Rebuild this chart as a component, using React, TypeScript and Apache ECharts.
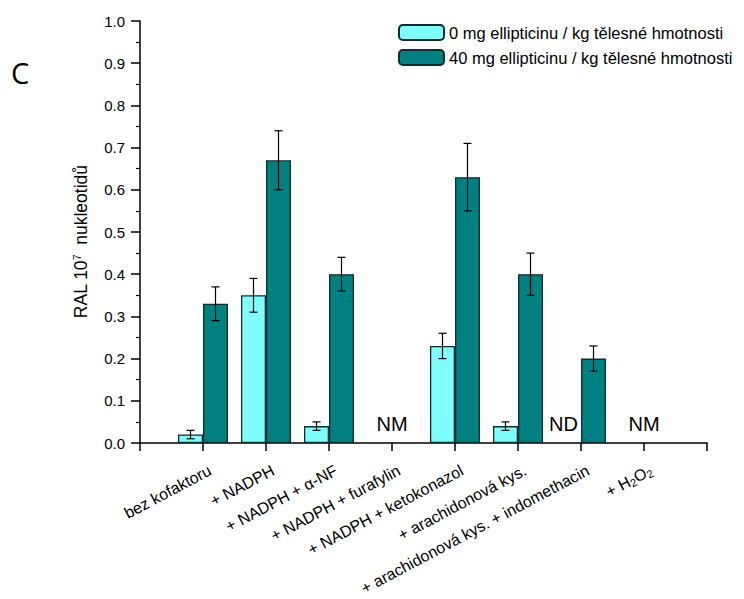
import React, { useEffect, useRef } from 'react';
import * as echarts from 'echarts';

const categories = [
  'bez kofaktoru',
  '+ NADPH',
  '+ NADPH + α-NF',
  '+ NADPH + furafylin',
  '+ NADPH + ketokonazol',
  '+ arachidonová kys.',
  '+ arachidonová kys. + indomethacin',
  '+ H₂O₂',
];
const controlValues = [0.02, 0.35, 0.04, null, 0.23, 0.04, null, null];
const controlErrors = [0.01, 0.04, 0.01, null, 0.03, 0.01, null, null];
const treatedValues = [0.33, 0.67, 0.4, null, 0.63, 0.4, 0.2, null];
const treatedErrors = [0.04, 0.07, 0.04, null, 0.08, 0.05, 0.03, null];
const notes = [
  { index: 3, text: 'NM', series: 'both' },
  { index: 6, text: 'ND', series: 'control' },
  { index: 7, text: 'NM', series: 'both' },
];
const seriesNames = [
  '0 mg ellipticinu / kg tělesné hmotnosti',
  '40 mg ellipticinu / kg tělesné hmotnosti',
];
const yTicks = { min: 0, max: 1, interval: 0.1 };

const FONT = '"Liberation Sans", Arial, Helvetica, sans-serif';
const BAR_W = 25;
const CYAN = '#80FFFF';
const TEAL = '#008080';
const BORDER = '#0e2e2e';
const NBSP4 = '\u00a0\u00a0\u00a0\u00a0';

const axisSlots = [' ', ...categories, '  '];
const pad = (arr: (number | null)[]) => [null, ...arr, null];

function errorSeries(values: (number | null)[], errors: (number | null)[], side: number) {
  const data: number[][] = [];
  values.forEach((v, i) => {
    if (v != null && errors[i] != null) data.push([i + 1, v, errors[i] as number]);
  });
  return {
    type: 'custom',
    silent: true,
    z: 10,
    encode: { x: 0, y: 1 },
    data,
    renderItem: (params: any, api: any) => {
      const x = api.value(0);
      const v = api.value(1);
      const e = api.value(2);
      const c = api.coord([x, v]);
      const top = api.coord([x, v + e])[1];
      const bot = api.coord([x, v - e])[1];
      const cx = c[0] + (side * BAR_W) / 2;
      const st = { stroke: '#000', lineWidth: 1.2 };
      return {
        type: 'group',
        children: [
          { type: 'line', shape: { x1: cx, y1: top, x2: cx, y2: bot }, style: st },
          { type: 'line', shape: { x1: cx - 4, y1: top, x2: cx + 4, y2: top }, style: st },
          { type: 'line', shape: { x1: cx - 4, y1: bot, x2: cx + 4, y2: bot }, style: st },
        ],
      };
    },
  };
}

export default function App() {
  const ref = useRef<HTMLDivElement>(null);
  useEffect(() => {
    const chart = echarts.init(ref.current!, null, { renderer: 'svg' });
    const option: any = {
      animation: false,
      backgroundColor: '#fff',
      title: {
        text: 'C',
        left: 6,
        top: 53,
        textStyle: { fontFamily: '"Open Sans", sans-serif', fontSize: 29, fontWeight: 'normal', color: '#000' },
      },
      legend: {
        orient: 'vertical',
        left: 393,
        top: 19,
        itemWidth: 45,
        itemHeight: 15,
        itemGap: 8,
        data: seriesNames,
        textStyle: { fontFamily: FONT, fontSize: 16.5, color: '#000' },
      },
      grid: { left: 140, right: 37, top: 21, bottom: 156, containLabel: false },
      xAxis: {
        type: 'category',
        data: axisSlots,
        boundaryGap: false,
        axisLine: { lineStyle: { color: '#000', width: 1.5 } },
        axisTick: { show: true, interval: 0, length: 8, lineStyle: { color: '#000', width: 1.5 } },
        axisLabel: {
          interval: 0,
          rotate: 28,
          margin: 30,
          padding: [0, -8, 0, 0],
          fontFamily: FONT,
          fontSize: 16,
          color: '#000',
          formatter: (v: string) => v.replace(/₂/g, '{s|2}'),
          rich: {
            s: { fontFamily: FONT, fontSize: 11, color: '#000', padding: [7, 0, 0, 0] },
          },
        },
        splitLine: { show: false },
      },
      yAxis: {
        type: 'value',
        min: yTicks.min,
        max: yTicks.max,
        interval: yTicks.interval,
        name: `{a|RAL 10}{s|7}{a|  nukleotidů${NBSP4}}`,
        nameLocation: 'middle',
        nameGap: 50,
        nameTextStyle: {
          rich: {
            a: { fontFamily: FONT, fontSize: 17.5, color: '#000' },
            s: { fontFamily: FONT, fontSize: 10, color: '#000', padding: [0, 0, 8, 0] },
          },
        },
        axisLine: { show: true, lineStyle: { color: '#000', width: 1.5 } },
        axisTick: { show: true, length: 9, lineStyle: { color: '#000', width: 1.5 } },
        minorTick: { show: true, splitNumber: 2, length: 4, lineStyle: { color: '#000', width: 1.2 } },
        axisLabel: {
          margin: 15,
          fontFamily: FONT,
          fontSize: 15,
          color: '#000',
          formatter: (v: number) => v.toFixed(1),
        },
        splitLine: { show: false },
      },
      series: [
        {
          name: seriesNames[0],
          type: 'bar',
          barWidth: BAR_W,
          barGap: '0%',
          data: pad(controlValues),
          itemStyle: { color: CYAN, borderColor: BORDER, borderWidth: 1.3 },
        },
        {
          name: seriesNames[1],
          type: 'bar',
          barWidth: BAR_W,
          barGap: '0%',
          data: pad(treatedValues),
          itemStyle: { color: TEAL, borderColor: BORDER, borderWidth: 1.3 },
        },
        errorSeries(controlValues, controlErrors, -1),
        errorSeries(treatedValues, treatedErrors, 1),
        {
          type: 'custom',
          silent: true,
          z: 11,
          encode: { x: 0, y: 1 },
          data: notes.map((n) => [n.index + 1, 0]),
          renderItem: (params: any, api: any) => {
            const n = notes[params.dataIndex];
            const c = api.coord([api.value(0), api.value(1)]);
            const dx = n.series === 'control' ? -BAR_W / 2 - 5 : n.series === 'treated' ? BAR_W / 2 : 0;
            return {
              type: 'text',
              x: c[0] + dx,
              y: c[1] - 9,
              style: {
                text: n.text,
                fontFamily: FONT,
                fontSize: 20,
                fill: '#000',
                align: 'center',
                verticalAlign: 'bottom',
              },
            };
          },
        },
      ],
    };
    chart.setOption(option);
    return () => chart.dispose();
  }, []);
  return <div ref={ref} style={{ position: 'fixed', left: 0, top: 0, width: 744, height: 599 }} />;
}
